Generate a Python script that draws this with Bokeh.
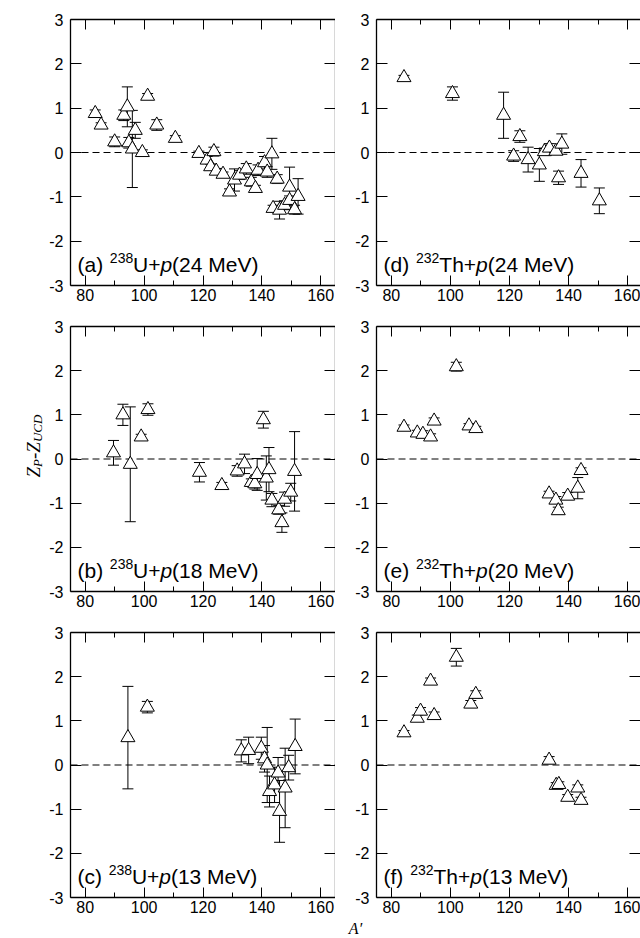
import math
from bokeh.plotting import figure
from bokeh.models import (ColumnDataSource, Whisker, TeeHead, Span, Label,
                          LinearAxis, FixedTicker, Range1d)
from bokeh.layouts import column, row
from bokeh.core.properties import value
from bokeh.embed import file_html
from bokeh.resources import INLINE

# ---------------- data ----------------
x_major = [80, 100, 120, 140, 160]
x_minor = [80, 90, 100, 110, 120, 130, 140, 150, 160]
y_ticks = [-3, -2, -1, 0, 1, 2, 3]
y_tick_labels = ["-3", "-2", "-1", "0", "1", "2", "3"]

# (a) 238U+p(24 MeV)
a_x = [83.4, 85.4, 90.0, 93.1, 94.3, 94.8, 96.0, 97.0, 99.4, 101.2, 104.3, 110.6,
       118.6, 121.4, 122.6, 123.7, 124.5, 126.8, 129.0, 130.7, 132.4, 134.7, 136.4,
       137.8, 138.7, 140.9, 141.8, 143.4, 145.2, 143.8, 146.0, 147.7, 149.4, 149.4,
       151.1, 152.3]
a_y = [0.88, 0.62, 0.24, 0.84, 1.03, 0.22, 0.08, 0.50, 0.00, 1.27, 0.62, 0.32,
       -0.02, -0.17, -0.32, 0.02, -0.42, -0.49, -0.89, -0.62, -0.51, -0.37, -0.66,
       -0.81, -0.40, -0.23, -0.44, -0.03, -0.60, -1.26, -1.30, -1.19, -1.08, -0.78,
       -1.29, -0.99]
a_err = [0.08, 0.05, 0.11, 0.12, 0.45, 0.12, 0.87, 0.18, 0.06, 0.06, 0.12, 0.06,
         0.05, 0.08, 0.06, 0.10, 0.06, 0.05, 0.07, 0.25, 0.10, 0.12, 0.10,
         0.07, 0.12, 0.14, 0.12, 0.35, 0.10, 0.07, 0.20, 0.10, 0.10, 0.45,
         0.10, 0.40]

# (b) 238U+p(18 MeV)
b_x = [89.6, 92.8, 95.3, 99.0, 101.3, 118.8, 126.4, 131.6, 134.1, 136.4, 137.6,
       138.4, 140.5, 141.5, 142.4, 143.4, 145.7, 147.7, 146.8, 149.8, 151.1]
b_y = [0.14, 1.00, -0.12, 0.50, 1.12, -0.30, -0.60, -0.27, -0.11, -0.53, -0.56,
       -0.35, 0.89, -0.43, -0.24, -0.93, -1.15, -0.91, -1.44, -0.75, -0.28]
b_err = [0.28, 0.24, 1.30, 0.06, 0.13, 0.22, 0.07, 0.12, 0.22, 0.08, 0.12,
         0.36, 0.19, 0.50, 0.50, 0.15, 0.10, 0.16, 0.22, 0.20, 0.90]

# (c) 238U+p(13 MeV)
c_x = [94.5, 101.1, 133.0, 135.5, 139.8, 140.9, 141.8, 142.6, 144.3, 145.5, 146.0,
       147.9, 149.1, 151.3]
c_y = [0.62, 1.31, 0.32, 0.33, 0.38, 0.14, 0.00, -0.60, -0.45, -0.18, -1.05,
       -0.52, -0.06, 0.42]
c_err = [1.16, 0.13, 0.25, 0.30, 0.25, 0.30, 0.85, 0.35, 0.40, 0.35, 0.70,
         0.90, 0.28, 0.62]

# (d) 232Th+p(24 MeV)
d_x = [84.3, 100.7, 118.0, 121.4, 123.5, 126.3, 130.1, 131.8, 133.5, 135.7, 137.7,
       136.6, 144.2, 150.4]
d_y = [1.69, 1.33, 0.84, -0.08, 0.36, -0.16, -0.28, 0.02, 0.10, 0.03, 0.19,
       -0.57, -0.47, -1.09]
d_err = [0.05, 0.15, 0.52, 0.12, 0.13, 0.28, 0.37, 0.08, 0.10, 0.07, 0.23,
         0.15, 0.31, 0.29]

# (e) 232Th+p(20 MeV)
e_x = [84.3, 88.8, 90.7, 93.3, 94.5, 102.0, 106.3, 108.6, 133.4, 135.7, 136.5,
       139.7, 143.1, 144.2]
e_y = [0.72, 0.59, 0.56, 0.50, 0.86, 2.09, 0.75, 0.69, -0.79, -0.93, -1.17,
       -0.84, -0.66, -0.26]
e_err = [0.05, 0.06, 0.08, 0.07, 0.07, 0.10, 0.05, 0.05, 0.06, 0.08, 0.08,
         0.08, 0.24, 0.06]

# (f) 232Th+p(13 MeV)
f_x = [84.3, 88.8, 89.9, 93.3, 94.5, 102.0, 106.9, 108.6, 133.4, 135.8, 136.7,
       139.7, 143.1, 144.2]
f_y = [0.73, 1.06, 1.22, 1.90, 1.12, 2.44, 1.38, 1.60, 0.11, -0.46, -0.44,
       -0.73, -0.52, -0.80]
f_err = [0.05, 0.07, 0.08, 0.07, 0.08, 0.20, 0.08, 0.08, 0.08, 0.06, 0.06,
         0.06, 0.07, 0.07]

panel_tags = ["(a)", "(b)", "(c)", "(d)", "(e)", "(f)"]
panel_mass = ["238", "238", "238", "232", "232", "232"]
panel_elem = ["U+", "U+", "U+", "Th+", "Th+", "Th+"]
panel_energy = ["(24 MeV)", "(18 MeV)", "(13 MeV)", "(24 MeV)", "(20 MeV)", "(13 MeV)"]

y_title_parts = ["Z", "P", "-", "Z", "UCD"]
x_title = "A\u2032"

# ---------------- styling helpers ----------------
SANS = "Liberation Sans"
SERIF = "Liberation Serif"
ARIAL_W = {'(': 333, ')': 333, ' ': 278, 'a': 556, 'b': 556, 'c': 500, 'd': 556,
           'e': 556, 'f': 278, 'U': 722, '+': 584, 'p': 556, 'M': 833, 'V': 667,
           'T': 611, 'h': 556}
for ch in "0123456789":
    ARIAL_W[ch] = 556
SERIF_W = {'Z': 556, 'P': 611, '-': 333, 'U': 722, 'C': 667, 'D': 722}


def text_w(s, size, table=ARIAL_W):
    return sum(table.get(c, 556) for c in s) * size / 1000.0


X0 = 75.0
Y0, Y1 = -3.0, 3.0
FRAME_LW = 1.3


def style_axis(ax, tick_in, minor_in, show_labels, ticks, standoff=5, line=True):
    if line:
        ax.axis_line_color = "black"
        ax.axis_line_width = FRAME_LW
    else:
        ax.axis_line_color = None
    ax.major_tick_in = tick_in
    ax.major_tick_out = 0
    ax.minor_tick_in = minor_in
    ax.minor_tick_out = 0
    ax.major_tick_line_color = "black"
    ax.minor_tick_line_color = "black"
    ax.major_tick_line_width = 1
    ax.minor_tick_line_width = 1
    if show_labels:
        ax.major_label_text_font = SANS
        ax.major_label_text_font_size = "16px"
        ax.major_label_text_color = "black"
        ax.major_label_standoff = standoff
    else:
        ax.major_label_overrides = {t: "" for t in ticks}
        ax.major_label_text_font_size = "8px"
        ax.major_label_standoff = 0


def make_panel(idx, xs, ys, errs, width, border_left, height, border_top,
               border_bottom, frame_w, frame_h, x_end, right_line):
    p = figure(width=width, height=height, x_range=Range1d(X0, x_end),
               y_range=Range1d(Y0, Y1), output_backend="svg",
               toolbar_location=None, min_border_left=border_left,
               min_border_right=0, min_border_top=border_top,
               min_border_bottom=border_bottom, x_axis_type=None,
               y_axis_type=None)
    p.outline_line_color = None
    p.background_fill_color = "white"
    p.border_fill_color = "white"

    xt = FixedTicker(ticks=x_major, minor_ticks=x_minor)
    yt = FixedTicker(ticks=y_ticks, minor_ticks=[])
    ylab = {t: s for t, s in zip(y_ticks, y_tick_labels)}

    bx = LinearAxis(ticker=xt)
    style_axis(bx, 10, 5, True, x_major, standoff=3)
    p.add_layout(bx, "below")
    tx = LinearAxis(ticker=xt)
    style_axis(tx, 10, 5, False, x_major)
    p.add_layout(tx, "above")
    ly = LinearAxis(ticker=yt, major_label_overrides=ylab)
    style_axis(ly, 11, 0, True, y_ticks, standoff=7)
    p.add_layout(ly, "left")
    ry = LinearAxis(ticker=yt)
    style_axis(ry, 11, 0, False, y_ticks, line=right_line)
    p.add_layout(ry, "right")

    p.add_layout(Span(location=0, dimension="width", line_color="black",
                      line_width=1, line_dash="7 4", level="underlay"))

    src = ColumnDataSource(dict(
        x=xs, y=ys,
        lo=[y - e for y, e in zip(ys, errs)],
        hi=[y + e for y, e in zip(ys, errs)]))
    w = Whisker(base="x", upper="hi", lower="lo", source=src,
                dimension="height", line_color="black", line_width=1,
                upper_head=TeeHead(size=11, line_color="black", line_width=1),
                lower_head=TeeHead(size=11, line_color="black", line_width=1))
    p.add_layout(w)
    p.scatter("x", "y", source=src, marker="triangle", size=14,
              fill_color="white", line_color="black", line_width=1)

    # panel label
    ppu_x = frame_w / (x_end - X0)
    ppu_y = frame_h / (Y1 - Y0)
    fs, fss = 21, 14
    base_y = Y0 + 21.0 / ppu_y
    sup_y = base_y + 7.0 / ppu_y
    cur = 7.0
    pieces = []
    pieces.append((panel_tags[idx], fs, "normal", base_y, cur))
    cur += text_w(panel_tags[idx] + " ", fs) + 1
    pieces.append((panel_mass[idx], fss, "normal", sup_y, cur))
    cur += text_w(panel_mass[idx], fss)
    pieces.append((panel_elem[idx], fs, "normal", base_y, cur))
    cur += text_w(panel_elem[idx], fs)
    pieces.append(("p", fs, "italic", base_y, cur))
    cur += text_w("p", fs)
    pieces.append((panel_energy[idx], fs, "normal", base_y, cur))
    for txt, size, style, yy, off in pieces:
        p.add_layout(Label(x=X0 + off / ppu_x, y=yy, text=txt,
                           text_font=SANS, text_font_size=f"{size}px",
                           text_font_style=style, text_color="black",
                           text_align="left", text_baseline="alphabetic"))
    return p


def blank_fig(w, h):
    f = figure(width=w, height=h, x_range=Range1d(0, w), y_range=Range1d(0, h),
               output_backend="svg", toolbar_location=None, min_border=0,
               x_axis_type=None, y_axis_type=None)
    f.outline_line_color = None
    f.background_fill_color = "white"
    f.border_fill_color = "white"
    return f


TOTAL_H = 938
YL_W = 46                      # strip holding the rotated y title
LW, RW = 335 - YL_W, 305
LB, RB = 69 - YL_W, 41
LFW, RFW = LW - LB, RW - RB
X_END_L = 165.0
X_END_R = X0 + RFW / (LFW / (X_END_L - X0))
XT_H = 20                      # strip holding the x title

heights = [(307, 19, 22), (306, 19, 22), (305, 19, 21)]
left_data = [(a_x, a_y, a_err), (b_x, b_y, b_err), (c_x, c_y, c_err)]
right_data = [(d_x, d_y, d_err), (e_x, e_y, e_err), (f_x, f_y, f_err)]

rows = []
for r in range(3):
    h, bt, bb = heights[r]
    fh = h - bt - bb
    lp = make_panel(r, *left_data[r], LW, LB, h, bt, bb, LFW, fh, X_END_L, True)
    rp = make_panel(r + 3, *right_data[r], RW, RB, h, bt, bb, RFW, fh, X_END_R, False)
    rows.append(row(lp, rp))

# rotated y-axis title: Z_P-Z_UCD (reads bottom to top)
yfig = blank_fig(YL_W, TOTAL_H)
zfs, sfs = 19, 13
sizes = [zfs, sfs, zfs, zfs, sfs]
styles = ["italic", "italic", "normal", "italic", "italic"]
base_x = [33, 37, 33, 33, 37]
pos = TOTAL_H - 477.0
for txt, size, style, bxp in zip(y_title_parts, sizes, styles, base_x):
    yfig.text(x=[bxp], y=[pos], text=[txt], angle=math.pi / 2,
              text_font=value(SERIF), text_font_size=value(f"{size}px"),
              text_font_style=style, text_color="black",
              text_align="left", text_baseline="alphabetic")
    pos += text_w(txt, size, SERIF_W)

# x-axis title A'
xfig = blank_fig(LW + RW, XT_H)
xfig.text(x=[355 - YL_W], y=[XT_H / 2], text=[x_title],
          text_font=value(SERIF), text_font_size=value("16px"),
          text_font_style="italic", text_color="black",
          text_align="center", text_baseline="middle")

layout = row(yfig, column(*rows, xfig))
html = file_html(layout, INLINE, title="Zp - Zucd")
html = html.replace("<head>", "<head><style>html,body{margin:0;padding:0;}</style>", 1)
open("out.html", "w").write(html)
